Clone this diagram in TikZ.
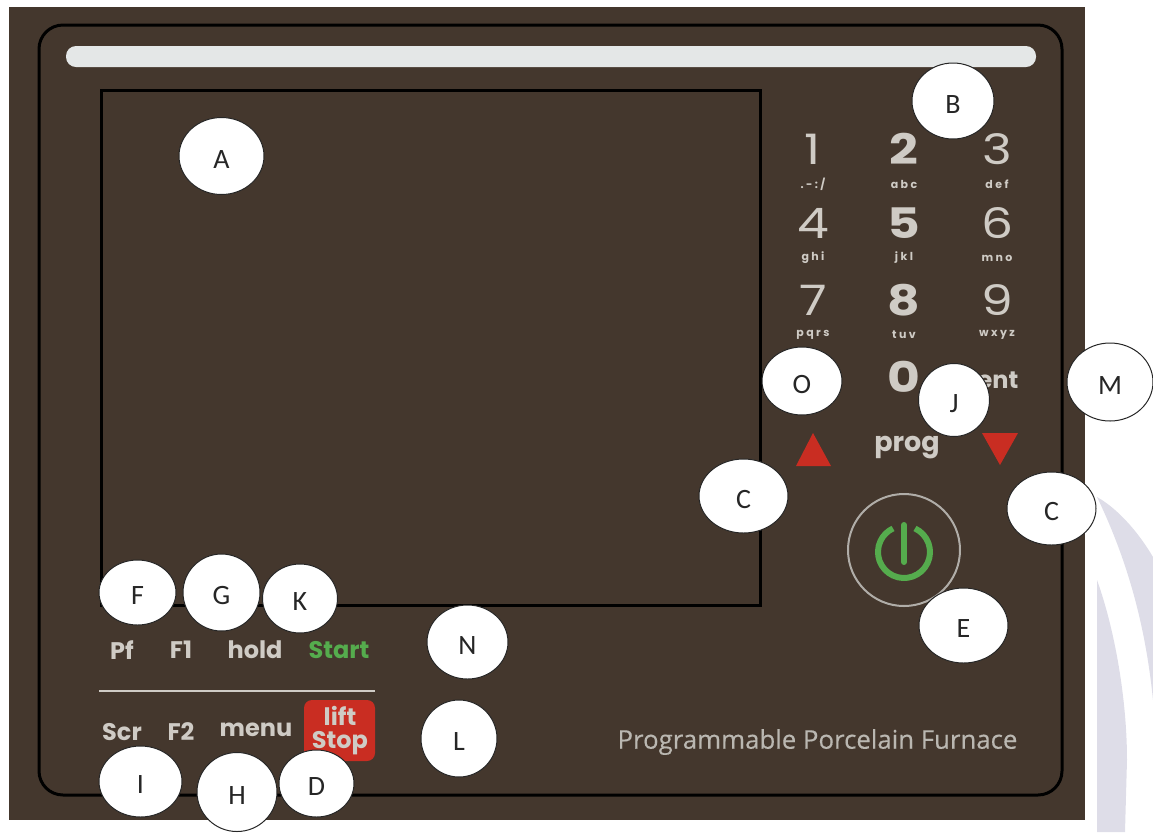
\documentclass[tikz,border=0pt]{standalone}
\usepackage{fontspec}
\setmainfont{Carlito}
\newfontfamily\keyfont{Poppins}
\newfontfamily\wideKeyfont[FakeStretch=1.2]{Poppins}
\newfontfamily\letterfont[LetterSpace=22]{Poppins}
\newfontfamily\brandfont{Open Sans}
\usetikzlibrary{shapes.geometric}
\definecolor{panelbrown}{HTML}{44372D}
\definecolor{slotgrey}{HTML}{E4E7E7}
\definecolor{keygrey}{HTML}{CFCBC5}
\definecolor{keygreen}{HTML}{55AC4D}
\definecolor{keyred}{HTML}{C92D22}
\definecolor{markgrey}{HTML}{DEDDE8}
\tikzset{
    callout/.style={draw=black!85, line width=0.5pt, fill=white, ellipse, inner sep=0pt, text=black!85, text height=12pt, text depth=0pt, font=\fontsize{14}{16}\selectfont},
    digitkey/.style={text=keygrey, inner sep=0pt, font=\wideKeyfont\fontsize{21}{21}\selectfont},
    boldkey/.style={digitkey, font=\wideKeyfont\bfseries\fontsize{21}{21}\selectfont},
    letterkey/.style={text=keygrey, inner sep=0pt, font=\letterfont\bfseries\fontsize{5.5}{6}\selectfont},
    softkey/.style={text=keygrey, inner sep=0pt, font=\keyfont\bfseries\fontsize{12}{12}\selectfont},
    frameline/.style={draw=black, line width=1.5pt}
}

\begin{document}
\begin{tikzpicture}[x=0.5pt, y=-0.5pt]
    \useasboundingbox (0,0) rectangle (1153,832);

    % Watermark behind the panel
    \fill[markgrey] (1097,497) .. controls (1120,510) and (1140,535) .. (1153,557) -- (1153,700) .. controls (1145,620) and (1125,555) .. (1097,497) -- cycle;
    \fill[markgrey] (1097,580) .. controls (1115,630) and (1127,700) .. (1127,760) -- (1125,832) -- (1097,832) -- cycle;

    % Panel, frame, slot and screen
    \fill[panelbrown] (9,7) rectangle (1085,820);
    \draw[frameline, rounded corners=12pt] (39,25) rectangle (1062,795);
    \fill[slotgrey, rounded corners=5pt] (66,46) rectangle (1036,67);
    \draw[frameline] (101,90) rectangle (760,605);

    % Keypad
    \foreach \x/\y/\d/\sub in {813/149/1/{.-:/}, 997/149/3/def, 813/223/4/ghi, 997/223/6/mno, 813/300/7/pqrs, 997/300/9/wxyz} {
        \node[digitkey] at (\x,\y) {\d};
        \node[letterkey] at (\x,\y+35) {\sub};
    }
    \foreach \x/\y/\d/\sub in {904/149/2/abc, 904/223/5/jkl, 904/300/8/tuv} {
        \node[boldkey] at (\x,\y) {\d};
        \node[letterkey] at (\x,\y+35) {\sub};
    }
    \node[boldkey] (zero) at (904,377) {0};
    \node[softkey] (ent) at (998,380) {ent};
    \node[softkey, font=\keyfont\bfseries\fontsize{13.5}{14}\selectfont] (prog) at (907,448) {prog};

    % Arrow keys and power key
    \fill[keyred] (813,433) -- (831,466) -- (796,466) -- cycle;
    \fill[keyred] (982,433) -- (1018,433) -- (1000,465) -- cycle;
    \draw[keygrey!85!black, line width=1pt] (904,550) circle (56);
    \draw[keygreen, line width=3pt] (904,552) ++(-65:26) arc[start angle=-65, end angle=245, radius=26];
    \draw[keygreen, line width=3pt, line cap=round] (904,525) -- (904,562);

    % Soft keys under the screen
    \node[softkey] (pf) at (122,650) {Pf};
    \node[softkey] (fone) at (181,650) {F1};
    \node[softkey] (hold) at (255,650) {hold};
    \node[softkey, text=keygreen] (start) at (339,650) {Start};
    \draw[keygrey, line width=1pt] (99,691) -- (375,691);
    \node[softkey] (scr) at (122,732) {Scr};
    \node[softkey] (ftwo) at (181,732) {F2};
    \node[softkey] (menu) at (256,730) {menu};
    \fill[keyred, rounded corners=4pt] (304,700) rectangle (375,761);
    \node[softkey, align=center, font=\keyfont\bfseries\fontsize{12}{11.5}\selectfont] (liftstop) at (340,731) {lift\\Stop};
    \node[text=keygrey!90!black, inner sep=0pt, font=\brandfont\addfontfeature{FakeBold=0.3}\fontsize{12.9}{14}\selectfont] (brand) at (817.5,742) {Programmable Porcelain Furnace};

    % Callouts
    \node[callout, minimum width=42.5pt, minimum height=38.5pt] (A) at (221.5,156) {A};
    \node[callout, minimum width=41pt, minimum height=38pt] (B) at (953,101) {B};
    \node[callout, minimum width=40pt, minimum height=34pt] (O) at (802,381) {O};
    \node[callout, minimum width=35.5pt, minimum height=36.5pt] (J) at (954,400) {J};
    \node[callout, minimum width=43pt, minimum height=39pt] (M) at (1110,382) {M};
    \node[callout, minimum width=44.5pt, minimum height=37pt] (Cleft) at (743.5,496) {C};
    \node[callout, minimum width=44.5pt, minimum height=36.5pt] (Cright) at (1051.5,508.5) {C};
    \node[callout, minimum width=44.5pt, minimum height=37.5pt] (E) at (963.5,625.5) {E};
    \node[callout, minimum width=38.5pt, minimum height=32.5pt] (F) at (137.5,592.5) {F};
    \node[callout, minimum width=38.5pt, minimum height=38.5pt] (G) at (221.5,592.5) {G};
    \node[callout, minimum width=37.5pt, minimum height=34.5pt] (K) at (300,598.5) {K};
    \node[callout, minimum width=40.5pt, minimum height=37pt] (N) at (467.5,642) {N};
    \node[callout, minimum width=38pt, minimum height=38.5pt] (L) at (459,738.5) {L};
    \node[callout, minimum width=41.5pt, minimum height=35.5pt] (I) at (140.5,781.5) {I};
    \node[callout, minimum width=40pt, minimum height=39.5pt] (H) at (237,792) {H};
    \node[callout, minimum width=37.5pt, minimum height=33.5pt] (D) at (316.5,783.5) {D};
\end{tikzpicture}
\end{document}
